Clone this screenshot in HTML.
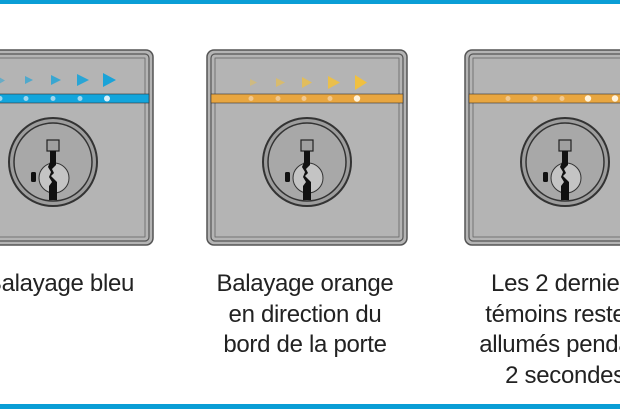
<!DOCTYPE html>
<html><head><style>
html,body{margin:0;padding:0;background:#fff;width:620px;height:410px;overflow:hidden}
.t{position:absolute;font-family:"Liberation Sans",sans-serif;font-size:24px;letter-spacing:-0.3px;color:#222;text-align:center;line-height:30.5px;white-space:nowrap}
</style></head><body>
<svg width="620" height="410" style="position:absolute;left:0;top:0">
<defs>
<g id="lock">
<circle cx="0" cy="0" r="44" fill="#9d9d9d" stroke="#333" stroke-width="2"/>
<circle cx="0" cy="0" r="39" fill="#a8a8a8" stroke="#333" stroke-width="1.5"/>
<circle cx="1" cy="16" r="15" fill="#c4c4c4" stroke="#333" stroke-width="1"/>
<rect x="-6" y="-22" width="12" height="11" fill="#a0a0a0" stroke="#222" stroke-width="1.2"/>
<path d="M-3,-11 L3,-11 L3,3 L-1,7 L1,11 L-2,14 L4,20 L4,38 L-4,38 L-4,24 L-1,20 L-4,15 L-2,10 L-5,5 L-3,0 Z" fill="#111"/>
<rect x="-22" y="10" width="5" height="10" rx="1.5" fill="#111"/>
</g>
<g id="panel">
<rect x="0" y="0" width="200" height="195" rx="7" fill="#b4b4b4" stroke="#555" stroke-width="1.5"/>
<rect x="4" y="4" width="192" height="187" rx="4" fill="none" stroke="#555" stroke-width="1.2"/>
<rect x="8" y="8" width="184" height="179" fill="none" stroke="#666" stroke-width="0.8"/>
<use href="#lock" x="100" y="112"/>
</g>
</defs>
<rect x="0" y="0" width="620" height="4" fill="#0a9ed6"/>
<rect x="0" y="404" width="620" height="5" fill="#0a9ed6"/>

<g transform="translate(-47,50)">
<use href="#panel"/>
<rect x="4" y="44" width="192" height="9" fill="#12a5dc" stroke="#333" stroke-width="0.6"/>
<g fill="#1aa3d8">
<path d="M46,27 l6,3.5 l-6,3.5z" opacity="0.5"/>
<path d="M72,26 l8,4 l-8,4z" opacity="0.65"/>
<path d="M98,25 l10,5 l-10,5z" opacity="0.8"/>
<path d="M124,24 l12,6 l-12,6z" opacity="0.9"/>
<path d="M150,23 l13,7 l-13,7z"/>
</g>
<g fill="#9ed6ee"><circle cx="47" cy="48.5" r="2.5"/><circle cx="73" cy="48.5" r="2.5"/><circle cx="100" cy="48.5" r="2.5"/><circle cx="127" cy="48.5" r="2.5"/><circle cx="154" cy="48.5" r="3" fill="#d8f0fa"/></g>
</g>

<g transform="translate(207,50)">
<use href="#panel"/>
<rect x="4" y="44" width="192" height="9" fill="#e8a640" stroke="#333" stroke-width="0.6"/>
<g fill="#f0c040">
<path d="M43,29 l7,3.5 l-7,3.5z" opacity="0.45"/>
<path d="M69,28 l9,4.5 l-9,4.5z" opacity="0.6"/>
<path d="M95,27 l10,5.5 l-10,5.5z" opacity="0.75"/>
<path d="M121,26 l12,6.5 l-12,6.5z" opacity="0.9"/>
<path d="M148,25 l12,7.5 l-12,7.5z"/>
</g>
<g fill="#f0c890"><circle cx="44" cy="48.5" r="2.5"/><circle cx="71" cy="48.5" r="2.5"/><circle cx="97" cy="48.5" r="2.5"/><circle cx="123" cy="48.5" r="2.5"/><circle cx="150" cy="48.5" r="3.2" fill="#fff3dc"/></g>
</g>

<g transform="translate(465,50)">
<use href="#panel"/>
<rect x="4" y="44" width="192" height="9" fill="#e8a640" stroke="#333" stroke-width="0.6"/>
<g fill="#f0c890"><circle cx="43" cy="48.5" r="2.5"/><circle cx="70" cy="48.5" r="2.5"/><circle cx="97" cy="48.5" r="2.5"/></g>
<g fill="#fff3dc"><circle cx="123" cy="48.5" r="3.2"/><circle cx="150" cy="48.5" r="3.2"/></g>
</g>
</svg>
<div class="t" style="left:-75px;width:270px;top:269px">Balayage bleu</div>
<div class="t" style="left:170px;width:270px;top:269px">Balayage orange<br>en direction du<br>bord de la porte</div>
<div class="t" style="left:430px;width:270px;top:269px">Les 2 derniers<br>témoins restent<br>allumés pendant<br>2 secondes</div>
</body></html>
